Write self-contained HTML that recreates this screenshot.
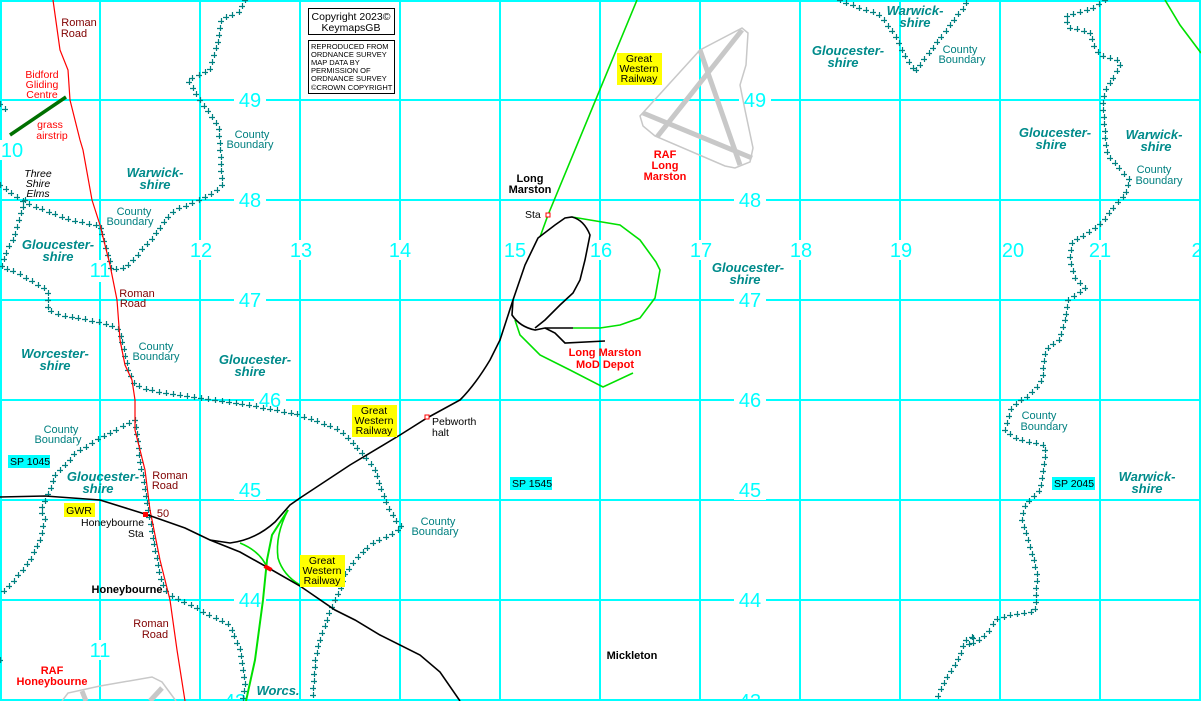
<!DOCTYPE html>
<html><head><meta charset="utf-8">
<style>
html,body{margin:0;padding:0;background:#fff;}
svg{display:block;}
text{font-family:"Liberation Sans",sans-serif;}
.g{fill:#00ffff;font-size:20px;}
.c{fill:#008b8b;font-size:13px;font-weight:bold;font-style:italic;text-anchor:middle;}
.cb{fill:#008080;font-size:11px;font-family:"Liberation Serif",serif;text-anchor:middle;}
.rr{fill:#800000;font-size:11px;font-family:"Liberation Serif",serif;text-anchor:middle;}
.y{font-size:10.5px;text-anchor:middle;fill:#000;}
.rd{fill:#ff0000;font-size:11px;font-weight:bold;text-anchor:middle;}
.bk{fill:#000;font-size:11px;font-weight:bold;text-anchor:middle;}
.sm{fill:#000;font-size:10.5px;}
</style></head><body>
<svg id="m" width="1201" height="701" viewBox="0 0 1201 701" xmlns="http://www.w3.org/2000/svg">
<rect width="1201" height="701" fill="#fff"/>
<g stroke="#00ffff" stroke-width="2">
<line x1="1" y1="0" x2="1" y2="701"/><line x1="100" y1="0" x2="100" y2="701"/><line x1="200" y1="0" x2="200" y2="701"/><line x1="300" y1="0" x2="300" y2="701"/><line x1="400" y1="0" x2="400" y2="701"/><line x1="500" y1="0" x2="500" y2="701"/><line x1="600" y1="0" x2="600" y2="701"/><line x1="700" y1="0" x2="700" y2="701"/><line x1="800" y1="0" x2="800" y2="701"/><line x1="900" y1="0" x2="900" y2="701"/><line x1="1000" y1="0" x2="1000" y2="701"/><line x1="1100" y1="0" x2="1100" y2="701"/><line x1="1200" y1="0" x2="1200" y2="701"/>
<line x1="0" y1="1" x2="1201" y2="1"/><line x1="0" y1="100" x2="1201" y2="100"/><line x1="0" y1="200" x2="1201" y2="200"/><line x1="0" y1="300" x2="1201" y2="300"/><line x1="0" y1="400" x2="1201" y2="400"/><line x1="0" y1="500" x2="1201" y2="500"/><line x1="0" y1="600" x2="1201" y2="600"/><line x1="0" y1="700" x2="1201" y2="700"/>
</g>
<!-- grid label background -->
<g fill="#fff">
<rect x="234" y="90" width="32" height="20"/><rect x="234" y="190" width="32" height="20"/><rect x="234" y="290" width="32" height="20"/><rect x="254" y="390" width="32" height="20"/><rect x="234" y="480" width="32" height="20"/><rect x="234" y="590" width="32" height="20"/>
<rect x="739" y="90" width="32" height="20"/><rect x="734" y="190" width="32" height="20"/><rect x="734" y="290" width="32" height="20"/><rect x="734" y="390" width="32" height="20"/><rect x="734" y="480" width="32" height="20"/><rect x="734" y="590" width="32" height="20"/>
<rect x="90" y="260" width="20" height="22"/><rect x="190" y="240" width="22" height="20"/><rect x="290" y="240" width="22" height="20"/><rect x="390" y="240" width="22" height="20"/><rect x="503" y="240" width="24" height="20"/><rect x="590" y="240" width="22" height="20"/><rect x="690" y="240" width="22" height="20"/><rect x="790" y="240" width="22" height="20"/><rect x="890" y="240" width="22" height="20"/><rect x="1001" y="240" width="24" height="20"/><rect x="1090" y="240" width="22" height="20"/><rect x="0" y="140" width="24" height="20"/><rect x="90" y="640" width="22" height="20"/>
</g>
<g class="g" text-anchor="middle">
<text x="250" y="107">49</text><text x="250" y="207">48</text><text x="250" y="307">47</text><text x="270" y="407">46</text><text x="250" y="497">45</text><text x="250" y="607">44</text><text x="235" y="708">43</text>
<text x="755" y="107">49</text><text x="750" y="207">48</text><text x="750" y="307">47</text><text x="750" y="407">46</text><text x="750" y="497">45</text><text x="750" y="607">44</text><text x="750" y="708">43</text>
<text x="12" y="157">10</text><text x="100" y="277">11</text><text x="201" y="257">12</text><text x="301" y="257">13</text><text x="400" y="257">14</text><text x="515" y="257">15</text><text x="601" y="257">16</text><text x="701" y="257">17</text><text x="801" y="257">18</text><text x="901" y="257">19</text><text x="1013" y="257">20</text><text x="1100" y="257">21</text><text x="1197" y="257">2</text><text x="100" y="657">11</text>
</g>
<!-- airfields -->
<g fill="none" stroke="#c8c8c8">
<path d="M640,116 L700,50 L742,28 L748,33 L746,65 L740,85 L745,110 L753,148 L750,162 L735,168 L725,166 L655,136 L643,126 Z" stroke-width="1.5"/>
<path d="M700,50 L740,165 M742,30 L657,137 M643,113 L752,158" stroke-width="5"/>
<path d="M62,701 L68,693 L100,686 L152,677 L162,682 L176,701" stroke-width="1.5"/>
<path d="M82,691 L86,701 M162,688 L150,701" stroke-width="5"/>
</g>
<!-- county boundaries -->
<g id="bnd" fill="none" stroke="none">
<path d="M245,0 L240,12 L222,18 L218,40 L210,70 L188,80 L200,100 L218,125 L220,140 L222,185 L215,192 L200,200 L175,210 L165,220 L155,235 L135,258 L125,268 L112,270"/>
<path d="M0,185 L25,203 L50,212 L70,220 L95,225 L100,225 L105,245 L112,270"/>
<path d="M25,200 L20,215 L15,235 L5,255 L2,268 L15,272 L30,280 L48,290 L48,310 L60,315 L100,322 L118,328 L122,340 L125,355 L127,365 L130,375 L135,385 L150,390 L200,398 L250,405 L300,415 L340,430 L355,445 L368,460 L375,470 L385,500 L395,520 L402,528 L390,535 L370,545 L355,560 L345,575 L340,590 L330,610 L320,640 L315,660 L313,690 L313,701"/>
<path d="M0,104 L6,110"/>
<path d="M135,420 L100,438 L75,453 L70,460 L55,475 L50,490 L40,510 L45,520 L40,540 L30,560 L15,580 L0,595"/>
<path d="M135,420 L137,430 L140,460 L145,490 L150,520 L155,550 L160,575 L165,590 L170,595 L200,610 L230,625 L240,650 L245,680 L243,701"/>
<path d="M0,660 L3,666"/>
<path d="M840,0 L860,8 L880,15 L895,35 L905,55 L915,72 L925,58 L935,45 L950,25 L962,10 L968,0"/>
<path d="M1105,0 L1095,7 L1080,12 L1065,17 L1070,28 L1090,32 L1095,48 L1100,55 L1118,60 L1120,65 L1112,80 L1105,90 L1103,100 L1105,140 L1108,155 L1125,175 L1130,180 L1125,195 L1115,205 L1100,225 L1085,235 L1072,242 L1070,260 L1075,278 L1085,288 L1068,300 L1065,320 L1060,340 L1045,350 L1042,380 L1030,395 L1020,400 L1010,410 L1005,430 L1020,440 L1045,445 L1045,460 L1040,490 L1025,505 L1022,520 L1030,545 L1037,575 L1035,612 L1010,615 L995,620 L990,630 L980,640 L968,645 L975,635 L965,640 L958,660 L945,680 L935,701"/>
</g>
<path id="crosses" fill="none" stroke="#008080" stroke-width="1.2"/>
<!-- roman road -->
<path d="M53,0 L60,50 L68,70 L70,100 L80,140 L83,150 L92,200 L100,225 L110,265 L117,300 L120,340 L125,365 L132,380 L135,400 L135,430 L145,470 L150,510 L160,560 L170,600 L177,650 L185,701" fill="none" stroke="#ff0000" stroke-width="1.2"/>
<!-- airstrip -->
<path d="M10,135 L66,97" stroke="#007000" stroke-width="3.5"/>
<!-- green railways -->
<g fill="none" stroke="#00e000" stroke-width="1.6">
<path d="M637,0 L548,215 L540,237"/>
<path d="M572,217 L620,225 L640,240 L656,262 L660,270 L655,298 L640,318 L620,325 L600,328 L573,328"/>
<path d="M515,320 L520,335 L540,355 L570,370 L603,387 L633,373"/>
<path d="M246,701 L255,660 L263,600 L267,560 L272,535 L288,510" stroke-width="2"/>
<path d="M240,543 Q262,552 268,570"/>
<path d="M288,510 Q275,535 278,558 Q283,575 300,585"/>
<path d="M1165,0 L1180,25 L1201,53"/>
</g>
<!-- black railways -->
<g fill="none" stroke="#000" stroke-width="1.6">
<path d="M0,497 L45,496 L100,500 L148,515 L185,528 L210,540 L240,552 L265,566 L300,586 L335,610 L355,620 L380,635 L420,655 L440,672 L460,701"/>
<path d="M210,540 L230,543 Q255,540 275,522 L290,505 L300,498 L350,465 L400,435 L427,418 L460,400 Q475,385 490,360 L500,340 L513,300 L525,265 L538,238 L555,225 L565,218 L572,217 Q584,220 590,235 L585,260 L580,280 L573,293 L560,305 L545,320 L535,328"/>
<path d="M513,300 L512,315 Q520,327 535,330 L545,328 L573,328"/>
<path d="M545,328 L555,333 L565,343 L605,341"/>
</g>
<rect x="264" y="566" width="8" height="4" fill="#ff0000" transform="rotate(30 268 568)"/>
<rect x="143" y="512" width="5" height="5" fill="#ff0000"/>
<rect x="546" y="213" width="4" height="4" fill="#fff" stroke="#ff0000"/>
<rect x="425" y="415" width="4" height="4" fill="#fff" stroke="#ff0000"/>
<!-- yellow labels -->
<g fill="#ffff00">
<rect x="64" y="503" width="31" height="14"/><rect x="617" y="53" width="45" height="32"/><rect x="352" y="405" width="45" height="32"/><rect x="300" y="555" width="45" height="32"/>
</g>
<text class="y" x="79" y="514">GWR</text>
<text class="y" x="639" y="62">Great</text><text class="y" x="639" y="72">Western</text><text class="y" x="639" y="82">Railway</text>
<text class="y" x="374" y="414">Great</text><text class="y" x="374" y="424">Western</text><text class="y" x="374" y="434">Railway</text>
<text class="y" x="322" y="564">Great</text><text class="y" x="322" y="574">Western</text><text class="y" x="322" y="584">Railway</text>
<!-- cyan labels -->
<g fill="#00ffff"><rect x="8" y="455" width="42" height="13"/><rect x="510" y="477" width="42" height="13"/><rect x="1052" y="477" width="43" height="13"/></g>
<text class="sm" x="10" y="465">SP 1045</text><text class="sm" x="512" y="487">SP 1545</text><text class="sm" x="1054" y="487">SP 2045</text>
<!-- copyright -->
<rect x="308.5" y="8.5" width="86" height="26" fill="#fff" stroke="#000"/>
<text x="351" y="20" font-size="10.5" text-anchor="middle">Copyright 2023©</text>
<text x="351" y="31" font-size="10.5" text-anchor="middle">KeymapsGB</text>
<rect x="308.5" y="40.5" width="86" height="53" fill="#fff" stroke="#000"/>
<g font-size="7.5"><text x="311" y="49">REPRODUCED FROM</text><text x="311" y="57">ORDNANCE SURVEY</text><text x="311" y="65">MAP DATA BY</text><text x="311" y="73">PERMISSION OF</text><text x="311" y="81">ORDNANCE SURVEY</text><text x="311" y="90">©CROWN COPYRIGHT</text></g>
<!-- county names -->
<g class="c">
<text x="155" y="177">Warwick-</text><text x="155" y="189">shire</text>
<text x="58" y="249">Gloucester-</text><text x="58" y="261">shire</text>
<text x="55" y="358">Worcester-</text><text x="55" y="370">shire</text>
<text x="255" y="364">Gloucester-</text><text x="250" y="376">shire</text>
<text x="103" y="481">Gloucester-</text><text x="98" y="493">shire</text>
<text x="278" y="695">Worcs.</text>
<text x="748" y="272">Gloucester-</text><text x="745" y="284">shire</text>
<text x="915" y="15">Warwick-</text><text x="915" y="27">shire</text>
<text x="848" y="55">Gloucester-</text><text x="843" y="67">shire</text>
<text x="1055" y="137">Gloucester-</text><text x="1051" y="149">shire</text>
<text x="1154" y="139">Warwick-</text><text x="1156" y="151">shire</text>
<text x="1147" y="481">Warwick-</text><text x="1147" y="493">shire</text>
</g>
<g class="cb">
<text x="252" y="138">County</text><text x="250" y="148">Boundary</text>
<text x="134" y="215">County</text><text x="130" y="225">Boundary</text>
<text x="156" y="350">County</text><text x="156" y="360">Boundary</text>
<text x="61" y="433">County</text><text x="58" y="443">Boundary</text>
<text x="438" y="525">County</text><text x="435" y="535">Boundary</text>
<text x="960" y="53">County</text><text x="962" y="63">Boundary</text>
<text x="1154" y="173">County</text><text x="1159" y="184">Boundary</text>
<text x="1039" y="419">County</text><text x="1044" y="430">Boundary</text>
</g>
<g class="rr">
<text x="79" y="26">Roman</text><text x="74" y="37">Road</text>
<text x="137" y="297">Roman</text><text x="133" y="307">Road</text>
<text x="170" y="479">Roman</text><text x="165" y="489">Road</text>
<text x="151" y="627">Roman</text><text x="155" y="638">Road</text>
<text x="163" y="517" style="text-anchor:middle">50</text>
</g>
<g fill="#ff0000" font-size="10.5" text-anchor="middle">
<text x="42" y="78">Bidford</text><text x="42" y="88">Gliding</text><text x="42" y="98">Centre</text>
<text x="50" y="128">grass</text><text x="52" y="139">airstrip</text>
</g>
<g font-size="10.5" font-style="italic" text-anchor="middle" fill="#000">
<text x="38" y="177">Three</text><text x="38" y="187">Shire</text><text x="38" y="197">Elms</text>
</g>
<text class="bk" x="530" y="182">Long</text><text class="bk" x="530" y="193">Marston</text>
<text class="sm" x="525" y="218">Sta</text>
<text class="rd" x="665" y="158">RAF</text><text class="rd" x="665" y="169">Long</text><text class="rd" x="665" y="180">Marston</text>
<text class="rd" x="605" y="356">Long Marston</text><text class="rd" x="605" y="368">MoD Depot</text>
<text class="sm" x="432" y="425">Pebworth</text><text class="sm" x="432" y="436">halt</text>
<text class="sm" x="81" y="526">Honeybourne</text><text class="sm" x="128" y="537">Sta</text>
<text class="bk" x="127" y="593">Honeybourne</text>
<text class="bk" x="632" y="659">Mickleton</text>
<text class="rd" x="52" y="674">RAF</text><text class="rd" x="52" y="685">Honeybourne</text>
</svg>
<script>
(function(){
var ps=document.querySelectorAll('#bnd path'),d='';
for(var i=0;i<ps.length;i++){var p=ps[i],L=p.getTotalLength();
for(var s=0;s<=L;s+=7){var q=p.getPointAtLength(s),x=Math.round(q.x),y=Math.round(q.y);
d+='M'+(x-3)+','+(y+0.5)+'h6M'+(x+0.5)+','+(y-3)+'v6';}}
document.getElementById('crosses').setAttribute('d',d);
})();
</script>
</body></html>
